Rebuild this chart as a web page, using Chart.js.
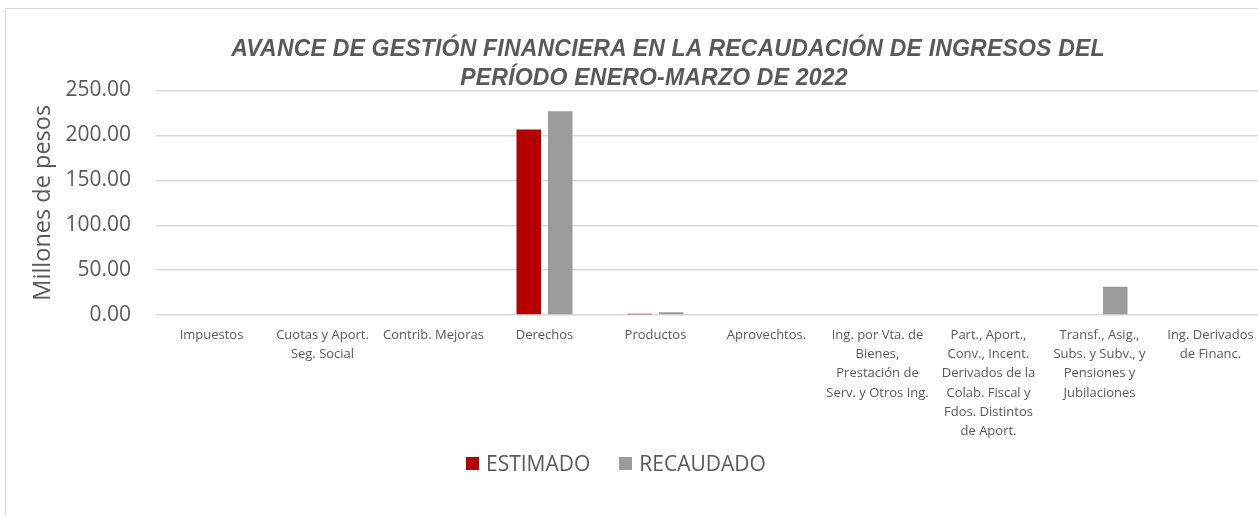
<!DOCTYPE html>
<html>
<head>
<meta charset="utf-8">
<script src="https://cdn.jsdelivr.net/npm/chart.js@4.4.0/dist/chart.umd.min.js"></script>
<style>
  html, body { margin: 0; padding: 0; background: #fff; overflow: hidden; }
  #wrap { position: relative; width: 1258px; height: 516px; overflow: hidden; }
  #frame { position: absolute; left: 5px; top: 8px; width: 1300px; height: 600px; border: 1px solid #d9d9d9; box-sizing: border-box; }
  #box { position: absolute; left: 0; top: 0; width: 1272px; height: 516px; }
  .ttl { position: absolute; width: 1000px; text-align: center; font-family: "Liberation Sans", Arial, sans-serif;
         font-weight: bold; font-style: italic; font-size: 23px; letter-spacing: 0.2px; color: #595959; white-space: nowrap; }
  #legend { position: absolute; left: 466px; top: 449px; font-family: "Open Sans", sans-serif; font-size: 21px; color: #595959; white-space: nowrap; }
  #legend span.sw { display: inline-block; width: 13px; height: 13px; margin-right: 7px; vertical-align: 1px; }
  #legend span.it { margin-right: 29px; }
</style>
</head>
<body>
<div id="wrap">
  <div id="frame"></div>
  <div id="box"><canvas id="chart"></canvas></div>
  <div class="ttl" style="left:168px; top:35px;">AVANCE DE GESTIÓN FINANCIERA EN LA RECAUDACIÓN DE INGRESOS DEL</div>
  <div class="ttl" style="left:154px; top:64px;">PERÍODO ENERO-MARZO DE 2022</div>
  <div id="legend"></div>
</div>
<script>
const categories = [
  ["Impuestos"],
  ["Cuotas y Aport.", "Seg. Social"],
  ["Contrib. Mejoras"],
  ["Derechos"],
  ["Productos"],
  ["Aprovechtos."],
  ["Ing. por Vta. de", "Bienes,", "Prestación de", "Serv. y Otros Ing."],
  ["Part., Aport.,", "Conv., Incent.", "Derivados de la", "Colab. Fiscal y", "Fdos. Distintos", "de Aport."],
  ["Transf., Asig.,", "Subs. y Subv., y", "Pensiones y", "Jubilaciones"],
  ["Ing. Derivados", "de Financ."]
];
const estimado = [0, 0, 0, 206.7, 1.5, 0, 0, 0, 0, 0];
const recaudado = [0, 0, 0, 227.0, 3.0, 0, 0, 0, 31.5, 0];
const yTicks = [0, 50, 100, 150, 200, 250];

const seriesNames = ["ESTIMADO", "RECAUDADO"];
const seriesColors = ["#b40000", "#9b9b9b"];

const legend = document.getElementById("legend");
seriesNames.forEach((n, i) => {
  legend.innerHTML += '<span class="sw" style="background:' + seriesColors[i] + '"></span><span class="it">' + n + '</span>';
});

const ctx = document.getElementById("chart").getContext("2d");
new Chart(ctx, {
  type: "bar",
  data: {
    labels: categories,
    datasets: [
      { label: seriesNames[0], data: estimado, backgroundColor: seriesColors[0], borderWidth: 0 },
      { label: seriesNames[1], data: recaudado, backgroundColor: seriesColors[1], borderWidth: 0 }
    ]
  },
  options: {
    responsive: true,
    maintainAspectRatio: false,
    animation: false,
    layout: { padding: { top: 90.5, right: 6, left: 0, bottom: 0 } },
    datasets: { bar: { categoryPercentage: 0.567, barPercentage: 0.78 } },
    plugins: {
      legend: { display: false },
      title: { display: false },
      tooltip: { enabled: false }
    },
    scales: {
      x: {
        grid: { display: false, drawTicks: false },
        border: { display: false },
        afterFit: s => { s.height = 516 - 315; },
        ticks: {
          autoSkip: false, maxRotation: 0, minRotation: 0, padding: 11,
          color: "#595959",
          font: { family: "Open Sans", size: 13, lineHeight: 1.47 }
        }
      },
      y: {
        min: 0, max: 250,
        afterFit: s => { s.width = 156; },
        afterBuildTicks: s => { s.ticks = yTicks.map(v => ({ value: v })); },
        grid: { color: "#d9d9d9", lineWidth: 1.4, drawTicks: false },
        border: { display: false },
        ticks: {
          padding: 25, color: "#595959",
          font: { family: "Open Sans", size: 21 },
          callback: v => v.toFixed(2)
        },
        title: {
          display: true, text: "Millones de pesos", color: "#595959",
          font: { family: "Open Sans", size: 23.5 }, padding: { top: 29, bottom: 0 }
        }
      }
    }
  }
});
</script>
</body>
</html>
